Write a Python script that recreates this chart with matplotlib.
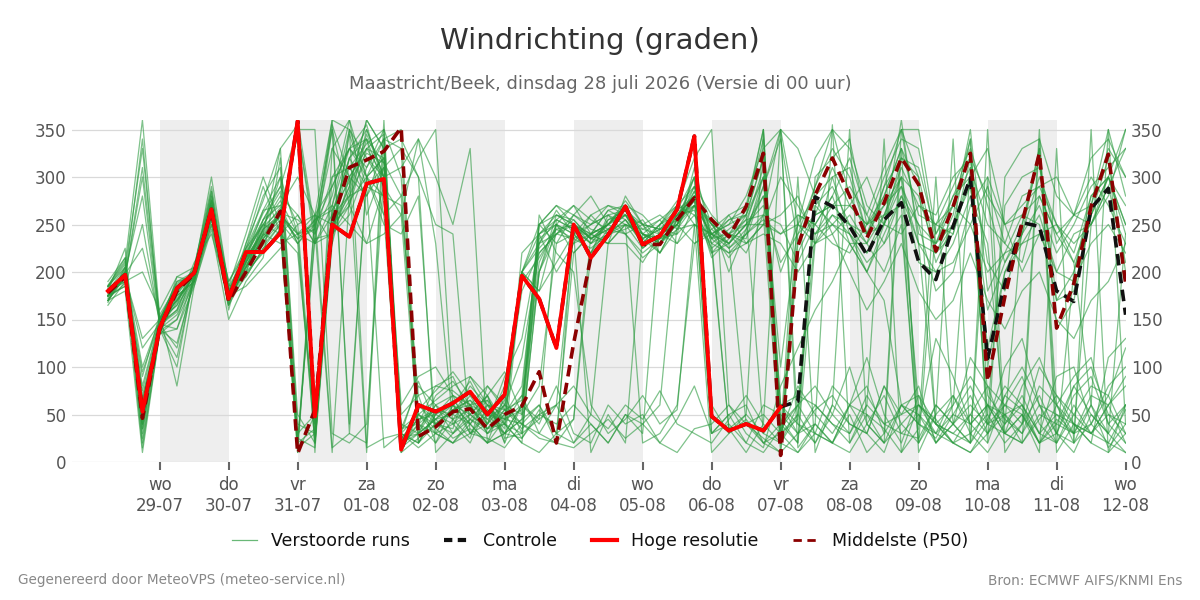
import matplotlib
matplotlib.use("Agg")
import matplotlib.pyplot as plt
from matplotlib.lines import Line2D
import pandas as pd

# 6-hourly steps from 28-07 06:00 to 12-08 00:00
times = pd.date_range("2026-07-28 06:00", periods=60, freq="6h")

# Hoge resolutie (ends 07-08 00:00)
hres = [180, 197, 53, 141, 183, 199, 266, 172, 221, 221,
        241, 359, 48, 250, 237, 293, 298, 13, 60, 53,
        62, 74, 50, 71, 196, 172, 120, 250, 215, 239,
        269, 229, 238, 266, 343, 48, 33, 40, 33, 58]

# Controle (follows hres underneath until 07-08)
control = hres + [64, 279, 269, 248, 218, 255, 273, 211, 192, 248,
                  299, 109, 188, 252, 248, 180, 169, 267, 288, 155]

# Middelste (P50)
p50 = [178, 195, 46, 140, 180, 198, 265, 169, 200, 232,
       264, 9, 55, 252, 310, 318, 327, 352, 27, 37,
       53, 56, 35, 50, 59, 95, 20, 125, 216, 239,
       269, 229, 229, 255, 278, 255, 237, 269, 325, 7,
       227, 281, 320, 280, 236, 273, 320, 292, 222, 269,
       325, 85, 174, 252, 325, 141, 188, 269, 324, 188]

# Verstoorde runs (selection of ensemble members)
runs = [
    [175, 195, 55, 145, 185, 200, 270, 175, 210, 235, 260, 345, 40, 255, 300, 330, 320, 20, 40, 55,
     60, 75, 45, 60, 180, 220, 240, 255, 235, 250, 270, 240, 235, 250, 290, 240, 230, 250, 310, 30,
     45, 270, 290, 250, 220, 260, 300, 40, 25, 60, 310, 120, 200, 240, 330, 60, 30, 250, 290, 210],
    [170, 205, 330, 150, 170, 195, 285, 170, 200, 255, 285, 15, 30, 260, 320, 350, 300, 25, 30, 70,
     85, 60, 30, 40, 200, 250, 230, 240, 220, 255, 265, 225, 240, 270, 260, 225, 240, 265, 340, 20,
     230, 290, 330, 300, 240, 280, 330, 290, 210, 250, 340, 70, 45, 30, 60, 20, 200, 270, 330, 300],
    [180, 225, 40, 140, 125, 190, 260, 180, 205, 245, 300, 240, 250, 350, 270, 230, 290, 15, 60, 45,
     50, 40, 20, 30, 45, 60, 30, 20, 50, 230, 280, 250, 220, 255, 300, 50, 35, 40, 25, 10,
     30, 60, 40, 20, 50, 35, 10, 60, 45, 20, 50, 30, 70, 55, 20, 45, 30, 60, 15, 40],
    [185, 210, 360, 155, 80, 185, 250, 165, 225, 265, 270, 230, 250, 290, 330, 310, 350, 300, 20, 40,
     55, 65, 40, 80, 200, 240, 260, 250, 230, 240, 255, 230, 250, 260, 280, 250, 240, 220, 260, 250,
     210, 250, 280, 230, 200, 250, 320, 300, 220, 260, 350, 180, 220, 260, 250, 170, 200, 280, 300, 250],
    [175, 185, 250, 145, 160, 200, 300, 185, 195, 225, 250, 360, 245, 10, 280, 340, 315, 280, 50, 30,
     40, 60, 80, 55, 65, 210, 250, 270, 255, 245, 260, 235, 250, 265, 300, 60, 30, 45, 20, 40,
     60, 30, 20, 10, 40, 70, 30, 25, 60, 40, 20, 45, 80, 60, 30, 90, 100, 40, 20, 55],
    [165, 190, 20, 135, 150, 205, 265, 170, 215, 240, 330, 30, 50, 245, 290, 360, 330, 35, 80, 60,
     30, 45, 65, 20, 200, 180, 210, 240, 250, 260, 250, 245, 240, 260, 270, 240, 250, 280, 330, 350,
     250, 240, 250, 230, 230, 290, 320, 310, 240, 280, 320, 100, 200, 230, 260, 200, 240, 250, 290, 330],
    [180, 200, 100, 150, 190, 195, 275, 160, 230, 290, 240, 260, 230, 240, 320, 290, 280, 270, 70, 20,
     60, 85, 50, 30, 45, 250, 270, 260, 245, 240, 250, 240, 220, 255, 270, 225, 35, 50, 30, 60,
     30, 55, 70, 40, 30, 80, 40, 20, 50, 70, 40, 60, 30, 20, 45, 70, 50, 30, 60, 80],
    [175, 195, 300, 145, 175, 190, 255, 175, 185, 205, 225, 250, 30, 270, 350, 320, 300, 310, 340, 230,
     40, 50, 70, 40, 30, 200, 250, 240, 220, 245, 240, 215, 230, 250, 300, 250, 225, 240, 260, 10,
     220, 260, 310, 270, 250, 300, 340, 330, 230, 250, 300, 50, 270, 300, 310, 230, 260, 270, 350, 280],
    [190, 215, 70, 140, 100, 200, 265, 190, 220, 250, 240, 20, 260, 360, 30, 300, 280, 25, 45, 50,
     70, 30, 55, 45, 60, 40, 80, 30, 20, 60, 40, 50, 20, 45, 80, 30, 50, 20, 10, 35,
     60, 270, 250, 240, 220, 250, 300, 210, 200, 230, 280, 230, 40, 250, 330, 140, 170, 260, 320, 200],
    [170, 180, 10, 135, 140, 185, 245, 150, 190, 215, 320, 50, 20, 240, 260, 310, 340, 20, 30, 60,
     45, 70, 40, 90, 130, 230, 255, 245, 230, 250, 275, 250, 245, 240, 310, 235, 260, 270, 350, 45,
     20, 300, 320, 340, 250, 260, 270, 60, 40, 20, 10, 30, 60, 90, 40, 20, 50, 80, 70, 30],
    [185, 190, 200, 160, 195, 205, 290, 185, 240, 300, 250, 350, 240, 280, 360, 300, 250, 240, 280, 30,
     20, 40, 60, 50, 70, 30, 60, 240, 260, 270, 260, 230, 250, 275, 250, 240, 230, 260, 300, 60,
     40, 20, 50, 30, 60, 40, 30, 50, 20, 40, 60, 40, 100, 130, 60, 30, 70, 90, 40, 60],
    [175, 200, 40, 145, 170, 195, 260, 170, 205, 235, 260, 240, 20, 230, 300, 330, 345, 10, 25, 40,
     55, 60, 35, 40, 20, 10, 30, 220, 240, 265, 255, 235, 220, 245, 285, 230, 245, 260, 30, 20,
     50, 240, 270, 290, 260, 230, 280, 250, 180, 200, 270, 300, 250, 200, 240, 250, 210, 60, 30, 240],
    [180, 205, 25, 140, 155, 190, 280, 180, 200, 220, 245, 10, 260, 250, 270, 350, 300, 60, 90, 100,
     70, 60, 30, 50, 80, 240, 200, 230, 260, 240, 245, 255, 230, 260, 265, 220, 230, 250, 280, 200,
     250, 230, 240, 260, 230, 200, 250, 20, 60, 40, 70, 30, 50, 60, 20, 40, 80, 50, 30, 10],
    [170, 195, 80, 150, 165, 210, 240, 175, 215, 255, 290, 350, 350, 30, 20, 40, 300, 35, 50, 65,
     80, 90, 60, 55, 40, 60, 20, 250, 235, 230, 230, 210, 240, 230, 270, 255, 200, 245, 280, 30,
     10, 30, 80, 60, 50, 20, 40, 60, 30, 50, 40, 20, 70, 100, 60, 50, 30, 40, 70, 120],
    [180, 195, 130, 150, 190, 200, 270, 190, 225, 280, 310, 20, 240, 300, 310, 280, 330, 340, 300, 250,
     240, 30, 40, 60, 50, 80, 230, 260, 280, 250, 240, 250, 260, 245, 250, 240, 215, 240, 255, 240,
     260, 250, 230, 220, 250, 270, 290, 250, 230, 270, 250, 290, 230, 210, 280, 240, 260, 300, 270, 230],
    [175, 185, 50, 145, 120, 195, 265, 175, 200, 240, 230, 240, 260, 15, 30, 20, 360, 15, 40, 30,
     60, 50, 70, 20, 60, 200, 260, 250, 240, 230, 250, 240, 230, 250, 230, 240, 255, 260, 320, 20,
     260, 250, 280, 320, 260, 310, 350, 240, 230, 280, 300, 40, 30, 50, 20, 60, 90, 110, 40, 20],
    [185, 215, 35, 135, 175, 190, 255, 170, 195, 225, 240, 220, 40, 250, 290, 360, 330, 50, 70, 80,
     90, 50, 35, 60, 110, 220, 240, 260, 250, 270, 265, 245, 255, 270, 320, 350, 60, 40, 50, 30,
     80, 50, 30, 60, 110, 50, 20, 70, 40, 30, 20, 60, 50, 30, 80, 60, 40, 20, 110, 130],
    [170, 200, 60, 145, 180, 200, 275, 180, 220, 255, 270, 300, 260, 230, 350, 300, 260, 280, 320, 350,
     60, 40, 20, 70, 30, 200, 240, 235, 250, 260, 240, 220, 235, 240, 260, 235, 220, 240, 300, 100,
     250, 280, 300, 240, 210, 230, 260, 20, 250, 270, 310, 250, 230, 280, 290, 250, 230, 250, 280, 350],
    [180, 190, 90, 155, 185, 195, 260, 185, 215, 265, 300, 40, 30, 300, 330, 340, 290, 30, 20, 50,
     40, 20, 60, 30, 25, 50, 60, 20, 40, 20, 50, 40, 60, 250, 280, 30, 40, 20, 60, 50,
     30, 40, 20, 50, 10, 30, 60, 40, 30, 20, 30, 10, 40, 60, 30, 50, 40, 20, 10, 30],
    [175, 200, 280, 145, 160, 205, 285, 175, 210, 245, 260, 240, 245, 330, 360, 260, 310, 20, 60, 40,
     30, 60, 50, 70, 200, 180, 250, 230, 240, 250, 260, 250, 245, 255, 275, 250, 240, 235, 290, 340,
     230, 260, 270, 250, 240, 270, 300, 280, 220, 240, 320, 210, 180, 240, 270, 220, 250, 290, 310, 330],
    [185, 205, 45, 140, 195, 190, 250, 165, 225, 250, 280, 260, 230, 350, 40, 300, 320, 40, 30, 45,
     25, 35, 20, 45, 40, 30, 20, 45, 240, 250, 270, 260, 240, 250, 280, 30, 50, 60, 20, 10,
     240, 290, 350, 330, 270, 250, 360, 230, 40, 60, 90, 60, 40, 70, 30, 20, 60, 30, 50, 40],
    [170, 195, 65, 150, 170, 200, 270, 170, 205, 235, 255, 10, 50, 250, 280, 290, 310, 330, 20, 55,
     50, 80, 60, 40, 70, 250, 270, 250, 235, 245, 250, 225, 240, 250, 270, 240, 250, 260, 320, 60,
     70, 60, 40, 30, 70, 40, 50, 80, 20, 40, 110, 80, 60, 40, 100, 70, 40, 30, 60, 90],
    [180, 195, 340, 145, 140, 195, 275, 180, 215, 230, 265, 230, 255, 270, 330, 355, 290, 260, 30, 45,
     60, 30, 50, 40, 20, 240, 250, 220, 240, 265, 270, 240, 230, 260, 290, 220, 240, 250, 250, 300,
     270, 240, 260, 250, 230, 260, 310, 270, 250, 240, 300, 330, 250, 260, 280, 240, 210, 260, 300, 250],
    [175, 200, 30, 150, 180, 200, 265, 175, 210, 240, 260, 350, 25, 240, 270, 330, 300, 20, 35, 60,
     70, 55, 40, 65, 200, 230, 240, 250, 235, 250, 265, 235, 245, 265, 280, 245, 230, 40, 20, 30,
     50, 20, 60, 40, 30, 80, 50, 60, 40, 30, 50, 80, 30, 20, 50, 40, 30, 70, 60, 20],
    [172, 188, 75, 148, 165, 192, 262, 168, 208, 228, 250, 25, 15, 235, 345, 290, 15, 30, 85, 40,
     35, 90, 70, 25, 30, 45, 60, 80, 50, 35, 60, 45, 75, 40, 30, 20, 45, 70, 40, 350,
     15, 40, 355, 20, 60, 340, 10, 35, 300, 40, 20, 350, 30, 50, 10, 330, 20, 60, 350, 40],
    [178, 198, 225, 150, 178, 205, 280, 178, 230, 275, 330, 355, 10, 330, 300, 10, 340, 350, 40, 20,
     45, 25, 80, 60, 40, 230, 265, 240, 10, 50, 20, 240, 255, 230, 250, 10, 30, 50, 350, 30,
     300, 10, 60, 350, 40, 20, 330, 10, 50, 340, 20, 300, 10, 40, 350, 30, 20, 350, 10, 60],
    [182, 192, 95, 147, 188, 198, 268, 182, 218, 250, 275, 240, 230, 270, 250, 230, 240, 260, 340, 300,
     250, 330, 20, 30, 60, 45, 255, 270, 240, 230, 250, 20, 30, 60, 230, 245, 260, 230, 250, 260,
     280, 230, 250, 270, 300, 250, 240, 270, 260, 300, 320, 280, 250, 270, 290, 300, 260, 320, 340, 300],
    [168, 202, 15, 138, 150, 188, 258, 165, 198, 222, 245, 350, 230, 260, 320, 340, 260, 10, 50, 35,
     20, 30, 25, 15, 40, 25, 20, 15, 30, 45, 25, 40, 20, 10, 35, 40, 60, 30, 15, 80,
     120, 160, 190, 230, 200, 170, 60, 40, 130, 90, 40, 60, 30, 80, 110, 60, 20, 40, 80, 100],
    [176, 194, 310, 152, 182, 202, 272, 176, 212, 248, 265, 20, 35, 265, 310, 335, 350, 20, 55, 75,
     95, 70, 55, 35, 220, 240, 255, 245, 230, 255, 260, 230, 240, 255, 285, 230, 220, 230, 240, 230,
     200, 230, 260, 240, 200, 240, 280, 230, 200, 210, 250, 200, 220, 230, 240, 200, 190, 230, 250, 220],
    [184, 208, 50, 143, 172, 196, 264, 174, 206, 238, 258, 235, 245, 360, 350, 15, 25, 30, 20, 50,
     60, 40, 70, 95, 50, 260, 220, 200, 60, 30, 45, 70, 40, 55, 250, 230, 35, 10, 40, 20,
     10, 40, 20, 60, 80, 30, 350, 300, 40, 20, 10, 40, 50, 20, 340, 10, 40, 30, 20, 10],
    [174, 196, 120, 146, 176, 200, 276, 178, 222, 262, 290, 250, 260, 290, 330, 300, 340, 330, 300, 10,
     30, 50, 35, 55, 35, 50, 40, 60, 40, 20, 50, 30, 250, 270, 290, 260, 240, 230, 250, 240,
     250, 320, 350, 280, 240, 290, 350, 350, 240, 270, 340, 20, 300, 330, 340, 280, 260, 250, 300, 350],
    [180, 200, 65, 142, 110, 194, 270, 176, 214, 244, 262, 345, 40, 260, 280, 320, 290, 15, 30, 45,
     65, 45, 30, 55, 190, 215, 245, 235, 225, 240, 255, 230, 235, 250, 275, 215, 235, 255, 260, 350,
     330, 280, 240, 200, 160, 190, 230, 180, 150, 170, 220, 170, 140, 180, 200, 150, 130, 170, 190, 230],
    [186, 212, 35, 141, 168, 197, 266, 171, 204, 232, 252, 230, 20, 245, 275, 300, 320, 25, 45, 55,
     45, 55, 45, 30, 60, 250, 260, 255, 235, 245, 260, 240, 230, 255, 280, 235, 255, 265, 350, 20,
     60, 80, 50, 100, 40, 20, 60, 50, 30, 70, 30, 50, 20, 40, 70, 30, 10, 50, 30, 60],
    [178, 190, 40, 146, 178, 199, 268, 173, 212, 238, 262, 255, 240, 355, 300, 280, 310, 30, 15, 30,
     20, 45, 35, 50, 25, 55, 30, 45, 220, 260, 265, 250, 230, 245, 270, 250, 230, 250, 270, 210,
     240, 260, 270, 270, 250, 280, 330, 260, 250, 290, 330, 270, 210, 240, 300, 250, 220, 280, 300, 270],
    [174, 204, 60, 144, 158, 193, 262, 170, 210, 245, 268, 20, 235, 240, 285, 345, 300, 35, 40, 80,
     75, 60, 65, 45, 55, 235, 250, 240, 240, 250, 270, 240, 235, 260, 280, 240, 225, 245, 290, 350,
     40, 30, 20, 60, 30, 10, 60, 70, 20, 50, 80, 40, 60, 50, 20, 30, 80, 100, 50, 30],
    [182, 198, 45, 148, 186, 201, 270, 176, 216, 242, 260, 235, 255, 265, 295, 325, 315, 30, 50, 40,
     55, 65, 50, 45, 200, 225, 245, 250, 240, 250, 265, 235, 245, 260, 280, 235, 240, 255, 300, 40,
     20, 230, 300, 310, 240, 250, 290, 230, 220, 250, 290, 160, 210, 250, 320, 170, 180, 260, 300, 240],
]

day_names = ["wo", "do", "vr", "za", "zo", "ma", "di", "wo", "do", "vr", "za", "zo", "ma", "di", "wo"]
tick_days = pd.date_range("2026-07-29", "2026-08-12", freq="D")
shaded_days = pd.to_datetime(["2026-07-29", "2026-07-31", "2026-08-02", "2026-08-04",
                              "2026-08-06", "2026-08-08", "2026-08-10"])

green = "#2a9a3e"

fig = plt.figure(figsize=(12, 6), dpi=100)
ax = fig.add_axes([0.06, 0.23, 0.878, 0.57])

for d in shaded_days:
    ax.axvspan(d, d + pd.Timedelta(days=1), color="#eeeeee", lw=0, zorder=0)

ax.set_yticks(range(0, 351, 50))
ax.grid(axis="y", color="#d9d9d9", lw=0.9, zorder=1)
ax.set_axisbelow(True)

for r in runs:
    ax.plot(times, r, color=green, lw=0.9, alpha=0.6, zorder=2)

ax.plot(times, control, color="#111111", lw=2.6, ls=(0, (3.2, 1.8)), zorder=3)
ax.plot(times, p50, color="#8b0000", lw=2.6, ls=(0, (3.2, 1.8)), zorder=4)
ax.plot(times[:len(hres)], hres, color="#ff0000", lw=2.8, zorder=5)

ax.set_ylim(0, 360)
ax.set_xlim(pd.Timestamp("2026-07-27 17:30"), pd.Timestamp("2026-08-12 00:00"))
ax.set_xticks(tick_days)
ax.set_xticklabels([f"{n}\n{d.strftime('%d-%m')}" for n, d in zip(day_names, tick_days)])

for s in ax.spines.values():
    s.set_visible(False)
ax.tick_params(axis="x", colors="#666666", length=6, width=1.5, labelsize=12, labelcolor="#555555", pad=4)
ax.tick_params(axis="y", length=0, labelsize=12, labelcolor="#555555", labelright=True, pad=4)

fig.text(0.5, 0.932, "Windrichting (graden)", ha="center", va="center", fontsize=21, color="#333333")
fig.text(0.5, 0.86, "Maastricht/Beek, dinsdag 28 juli 2026 (Versie di 00 uur)", ha="center", va="center",
         fontsize=13, color="#666666")

handles = [
    Line2D([], [], color=green, lw=0.9, alpha=0.7),
    Line2D([], [], color="#111111", lw=3, ls=(0, (2, 1.3))),
    Line2D([], [], color="#ff0000", lw=3),
    Line2D([], [], color="#8b0000", lw=2, ls=(0, (3, 2))),
]
labels = ["Verstoorde runs", "Controle", "Hoge resolutie", "Middelste (P50)"]
fig.legend(handles, labels, loc="center", bbox_to_anchor=(0.5, 0.098), ncol=4, frameon=False,
           fontsize=12.5, handlelength=1.45, columnspacing=2.0, labelcolor="#111111")

fig.text(0.015, 0.033, "Gegenereerd door MeteoVPS (meteo-service.nl)", ha="left", va="center",
         fontsize=9.8, color="#888888")
fig.text(0.985, 0.033, "Bron: ECMWF AIFS/KNMI Ens", ha="right", va="center", fontsize=9.8, color="#888888")

fig.savefig("out.png", dpi=100)
